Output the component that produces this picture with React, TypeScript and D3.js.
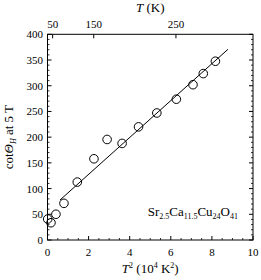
import React from "react";
import * as d3 from "d3";

const t2Values = [0.01, 0.17, 0.41, 0.8, 1.45, 2.26, 2.9, 3.63, 4.43, 5.32, 6.27, 7.08, 7.58, 8.17];
const cotValues = [40.8, 33.6, 50.1, 71.3, 112.6, 157.9, 195.5, 187.8, 220, 247, 273.8, 302, 323.6, 347.6];
const fitX = [0.61, 8.78];
const fitY = [77.8, 370.8];
const xTicks = [0, 2, 4, 6, 8, 10];
const yTicks = [0, 50, 100, 150, 200, 250, 300, 350, 400];
const topTicksT = [50, 150, 250];

export default function App() {
  const W = 261, H = 280;
  const left = 47.5, right = 253, top = 34.3, bottom = 240;
  const x = d3.scaleLinear().domain([0, 10]).range([left, right]);
  const y = d3.scaleLinear().domain([0, 400]).range([bottom, top]);
  const font = "'Liberation Serif', 'Times New Roman', serif";
  const xMinor = d3.range(0, 10.01, 0.5).filter((v) => !xTicks.includes(v));
  const yMinor = d3.range(0, 400.1, 10).filter((v) => v % 50 !== 0);
  const line = d3.line<number>().x((d, i) => x(fitX[i])).y((d, i) => y(fitY[i]));
  return (
    <svg width={W} height={H} style={{ position: "absolute", left: 0, top: 0 }} fontFamily={font}>
      <rect x={0} y={0} width={W} height={H} fill="#fff" />
      <rect x={left} y={top} width={right - left} height={bottom - top} fill="none" stroke="#000" strokeWidth={1} />
      {xTicks.map((v) => (
        <g key={"xt" + v}>
          <line x1={x(v)} x2={x(v)} y1={bottom} y2={bottom - 4} stroke="#000" />
          <text x={x(v)} y={256} fontSize={11} textAnchor="middle">{v}</text>
        </g>
      ))}
      {xMinor.map((v) => (
        <line key={"xm" + v} x1={x(v)} x2={x(v)} y1={bottom} y2={bottom - 2} stroke="#000" strokeWidth={0.8} />
      ))}
      {yTicks.map((v) => (
        <g key={"yt" + v}>
          <line x1={left} x2={left + 4} y1={y(v)} y2={y(v)} stroke="#000" />
          <line x1={right} x2={right - 4} y1={y(v)} y2={y(v)} stroke="#000" />
          <text x={43} y={y(v) + 4} fontSize={11} textAnchor="end">{v}</text>
        </g>
      ))}
      {yMinor.map((v) => (
        <g key={"ym" + v}>
          <line x1={left} x2={left + 2} y1={y(v)} y2={y(v)} stroke="#000" strokeWidth={0.8} />
          <line x1={right} x2={right - 2} y1={y(v)} y2={y(v)} stroke="#000" strokeWidth={0.8} />
        </g>
      ))}
      {topTicksT.map((t) => (
        <g key={"tt" + t}>
          <line x1={x((t * t) / 1e4)} x2={x((t * t) / 1e4)} y1={top} y2={top + 4} stroke="#000" />
          <text x={x((t * t) / 1e4)} y={28} fontSize={11} textAnchor="middle">{t}</text>
        </g>
      ))}
      <path d={line(fitX) || ""} fill="none" stroke="#000" strokeWidth={1} />
      {t2Values.map((v, i) => (
        <circle key={"p" + i} cx={x(v)} cy={y(cotValues[i])} r={4.3} fill="none" stroke="#000" strokeWidth={1} />
      ))}
      <text x={x(5)} y={12} fontSize={13} textAnchor="middle">
        <tspan fontStyle="italic">T</tspan> (K)
      </text>
      <text x={x(5)} y={273} fontSize={13} textAnchor="middle">
        <tspan fontStyle="italic">T</tspan>
        <tspan fontSize={8} dy={-5}>2</tspan>
        <tspan dy={5}> (10</tspan>
        <tspan fontSize={8} dy={-5}>4</tspan>
        <tspan dy={5}> K</tspan>
        <tspan fontSize={8} dy={-5}>2</tspan>
        <tspan dy={5}>)</tspan>
      </text>
      <text transform={`translate(13,${y(200)}) rotate(-90)`} fontSize={13} textAnchor="middle">
        cot<tspan fontStyle="italic">Θ</tspan>
        <tspan fontStyle="italic" fontSize={8} dy={3}>H</tspan>
        <tspan dy={-3}> at 5 T</tspan>
      </text>
      <text x={238} y={216} fontSize={13} textAnchor="end">
        Sr<tspan fontSize={8} dy={3}>2.5</tspan>
        <tspan dy={-3}>Ca</tspan>
        <tspan fontSize={8} dy={3}>11.5</tspan>
        <tspan dy={-3}>Cu</tspan>
        <tspan fontSize={8} dy={3}>24</tspan>
        <tspan dy={-3}>O</tspan>
        <tspan fontSize={8} dy={3}>41</tspan>
      </text>
    </svg>
  );
}
